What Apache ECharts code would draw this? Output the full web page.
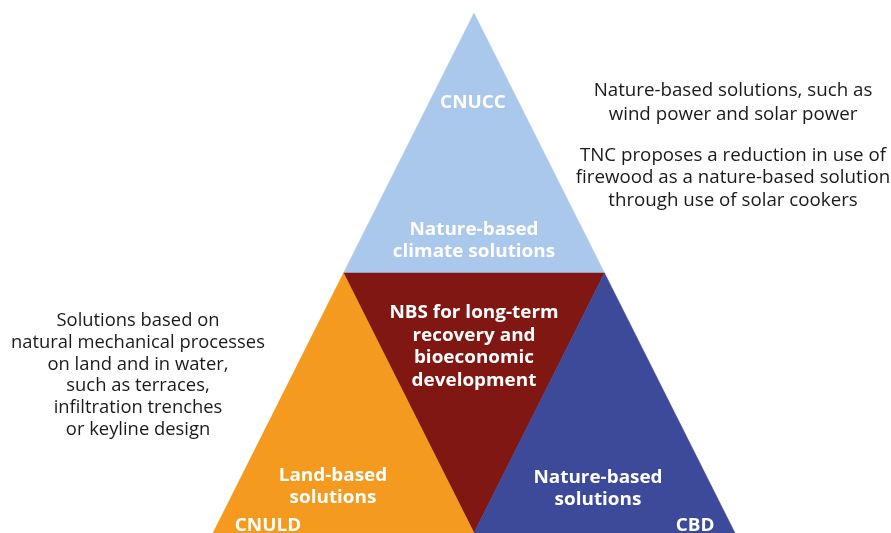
<!DOCTYPE html>
<html>
<head>
<meta charset="utf-8">
<script src="https://cdn.jsdelivr.net/npm/echarts@6/dist/echarts.min.js"></script>
<style>
  html, body { margin: 0; padding: 0; background: #ffffff; }
  #chart { width: 891px; height: 533px; }
</style>
</head>
<body>
<div id="chart"></div>
<script>
  // 三角形顶点（图内单位：大三角底宽 4，高 2）
  const triNames = ['CNUCC', 'NBS', 'CNULD', 'CBD']
  const triVerts = [
    [0, 2, -1, 1, 1, 1],
    [-1, 1, 1, 1, 0, 0],
    [-1, 1, -2, 0, 0, 0],
    [1, 1, 0, 0, 2, 0]
  ]
  const triColors = ['#A9C8EB', '#801713', '#F39A1F', '#3D4999']

  const whiteLabels = [
    { text: 'CNUCC', x: 473, y: 103 },
    { text: 'Nature-based\nclimate solutions', x: 474, y: 241 },
    { text: 'NBS for long-term\nrecovery and\nbioeconomic\ndevelopment', x: 474, y: 347 },
    { text: 'Land-based\nsolutions', x: 333, y: 487 },
    { text: 'Nature-based\nsolutions', x: 598, y: 489 },
    { text: 'CNULD', x: 268, y: 526 },
    { text: 'CBD', x: 695, y: 526 }
  ]
  const notes = [
    { text: 'Nature-based solutions, such as\nwind power and solar power', x: 733, y: 102.5, lh: 24, size: 18, sx: 1.04 },
    { text: 'TNC proposes a reduction in use of\nfirewood as a nature-based solution\nthrough use of solar cookers', x: 733, y: 178, lh: 22.5, size: 18, sx: 1.04 },
    { text: 'Solutions based on\nnatural mechanical processes\non land and in water,\nsuch as terraces,\ninfiltration trenches\nor keyline design', x: 138, y: 375.5, lh: 21.8, size: 17.5, sx: 1.05 }
  ]

  const FONT = '"Open Sans", "Noto Sans", sans-serif'
  const myChart = echarts.init(document.getElementById('chart'))

  let graphic = []
  whiteLabels.forEach(function (l) {
    graphic.push({
      type: 'text', x: l.x, y: l.y, z: 10, scaleX: 1.05,
      style: {
        text: l.text, fill: '#ffffff', font: 'bold 18px ' + FONT,
        align: 'center', verticalAlign: 'middle', lineHeight: 22.7
      }
    })
  })
  notes.forEach(function (n) {
    graphic.push({
      type: 'text', x: n.x, y: n.y, z: 10, scaleX: n.sx,
      style: {
        text: n.text, fill: '#1a1a1a', font: n.size + 'px ' + FONT,
        align: 'center', verticalAlign: 'middle', lineHeight: n.lh
      }
    })
  })

  const option = {
    animation: false,
    backgroundColor: '#ffffff',
    grid: { left: 213, right: 156, top: 13, bottom: -12 },
    xAxis: { type: 'value', min: -2, max: 2, show: false },
    yAxis: { type: 'value', min: 0, max: 2, show: false },
    graphic: graphic,
    series: [{
      type: 'custom',
      clip: false,
      data: triVerts.map(function (v, i) { return { name: triNames[i], value: v } }),
      renderItem: function (params, api) {
        let pts = []
        for (let k = 0; k < 3; k++) {
          pts.push(api.coord([api.value(k * 2), api.value(k * 2 + 1)]))
        }
        return {
          type: 'polygon',
          shape: { points: pts },
          style: { fill: triColors[params.dataIndex], stroke: triColors[params.dataIndex], lineWidth: 0.5 }
        }
      }
    }]
  }
  myChart.setOption(option)
</script>
</body>
</html>
